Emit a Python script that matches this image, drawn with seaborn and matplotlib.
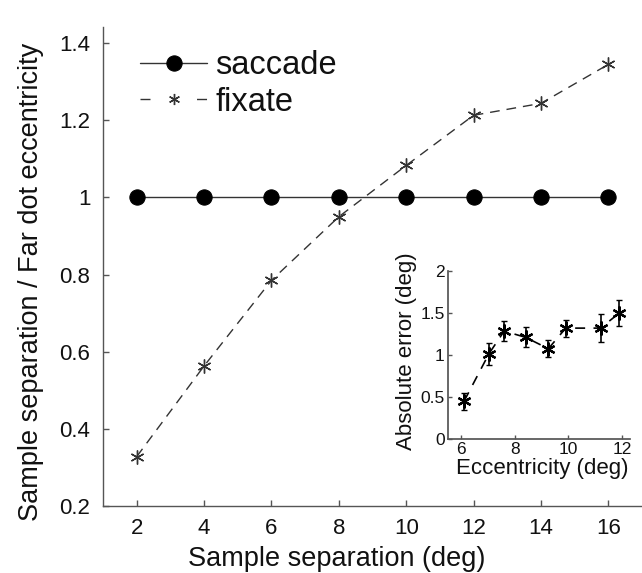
import matplotlib
matplotlib.use("Agg")
import matplotlib.pyplot as plt
import seaborn as sns
import numpy as np
import pandas as pd

sns.set_theme(style="ticks")
plt.rcParams['font.family'] = ['Liberation Sans', 'DejaVu Sans']

# ---- data ----
separation = [2, 4, 6, 8, 10, 12, 14, 16]
saccade = [1, 1, 1, 1, 1, 1, 1, 1]
fixate = [0.328, 0.563, 0.785, 0.950, 1.083, 1.213, 1.244, 1.345]

eccentricity = [6.1, 7.03, 7.6, 8.4, 9.25, 9.9, 11.2, 11.9]
abs_error = [0.45, 1.015, 1.285, 1.21, 1.075, 1.32, 1.32, 1.50]
abs_error_sem = [0.10, 0.13, 0.12, 0.12, 0.10, 0.10, 0.17, 0.15]

main_xticks = [2, 4, 6, 8, 10, 12, 14, 16]
main_yticks = [0.2, 0.4, 0.6, 0.8, 1.0, 1.2, 1.4]
main_yticklabels = ['0.2', '0.4', '0.6', '0.8', '1', '1.2', '1.4']
inset_xticks = [6, 8, 10, 12]
inset_yticks = [0, 0.5, 1, 1.5, 2]
inset_yticklabels = ['0', '0.5', '1', '1.5', '2']

spine_col = '#555555'
line_col = '#333333'

fig = plt.figure(figsize=(6.42, 5.73), dpi=100)
W, H = 642, 573
ax = fig.add_axes([103 / W, 1 - 506 / H, (642 - 103) / W, (506 - 27) / H])

df_s = pd.DataFrame({'x': separation, 'y': saccade})
df_f = pd.DataFrame({'x': separation, 'y': fixate})
sns.lineplot(data=df_s, x='x', y='y', ax=ax, color=line_col, lw=1.0,
             marker='o', markersize=11, markerfacecolor='black',
             markeredgecolor='black', label='saccade')
sns.lineplot(data=df_f, x='x', y='y', ax=ax, color=line_col, lw=1.0,
             marker=(6, 2, 0), markersize=10, markeredgecolor='#333333',
             markeredgewidth=1.0, label='fixate')
ax.lines[1].set_dashes([7, 5])

ax.set_xlim(1, 17)
ax.set_ylim(0.2, 1.442)
ax.set_xticks(main_xticks)
ax.set_xticklabels([str(t) for t in main_xticks])
ax.set_yticks(main_yticks)
ax.set_yticklabels(main_yticklabels)
ax.tick_params(direction='in', length=4, width=1, colors=spine_col,
               labelcolor='#111111', labelsize=16, pad=9)
for s in ['top', 'right']:
    ax.spines[s].set_visible(False)
for s in ['left', 'bottom']:
    ax.spines[s].set_color(spine_col)
    ax.spines[s].set_linewidth(1.0)
ax.set_xlabel('Sample separation (deg)', fontsize=19.5, color='#111111')
ax.set_ylabel('Sample separation / Far dot eccentricity', fontsize=19.5,
              color='#111111')
ax.xaxis.set_label_coords(0.434, -0.083)
ax.yaxis.set_label_coords(-0.11, 0.468)

leg = ax.legend(loc='upper left', bbox_to_anchor=(0.045, 0.979), frameon=False,
                fontsize=23.5, handlelength=2.05, handletextpad=0.25,
                labelspacing=0.17, borderaxespad=0)
for t in leg.get_texts():
    t.set_color('#111111')
leg_lines = leg.get_lines()
if len(leg_lines) > 1:
    leg_lines[1].set_dashes([7.2, 33.5])
    leg_lines[1].set_markersize(8)

# ---- inset ----
ax2 = fig.add_axes([448 / W, 1 - 439 / H, (630 - 448) / W, (439 - 271) / H])
df_i = pd.DataFrame({'x': eccentricity, 'y': abs_error})
sns.lineplot(data=df_i, x='x', y='y', ax=ax2, color='black', lw=1.2,
             marker=(6, 2, 0), markersize=10, markeredgecolor='black',
             markeredgewidth=1.6)
ax2.lines[0].set_dashes([6, 5])
ax2.errorbar(eccentricity, abs_error, yerr=abs_error_sem, fmt='none',
             ecolor='black', elinewidth=1.2, capsize=2, capthick=1.0)
ax2.set_xlim(5.5, 12.3)
ax2.set_ylim(0, 2)
ax2.set_xticks(inset_xticks)
ax2.set_xticklabels([str(t) for t in inset_xticks])
ax2.set_yticks(inset_yticks)
ax2.set_yticklabels(inset_yticklabels)
ax2.tick_params(direction='in', length=3, width=1, colors=spine_col,
                labelcolor='#111111', labelsize=12.5)
ax2.tick_params(axis='x', pad=2)
ax2.tick_params(axis='y', pad=2.5)
for s in ['top', 'right']:
    ax2.spines[s].set_visible(False)
for s in ['left', 'bottom']:
    ax2.spines[s].set_color(spine_col)
ax2.set_xlabel('Eccentricity (deg)', fontsize=16, color='#111111')
ax2.set_ylabel('Absolute error (deg)', fontsize=16, color='#111111')
ax2.xaxis.set_label_coords(0.517, -0.113)
ax2.yaxis.set_label_coords(-0.17, 0.524)
ax2.patch.set_alpha(0)

fig.savefig('out.png', dpi=100, facecolor='white')
